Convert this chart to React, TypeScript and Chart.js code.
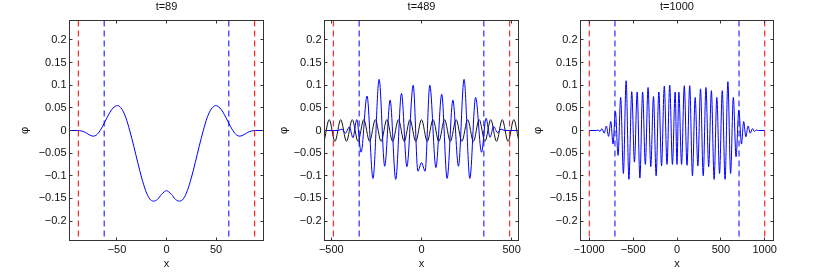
import { useEffect, useRef } from 'react';
import { Chart, registerables } from 'chart.js';

Chart.register(...registerables);

// ---------- data ----------
const titles = ['t=89', 't=489', 't=1000'];
const yTicks = [-0.2, -0.15, -0.1, -0.05, 0, 0.05, 0.1, 0.15, 0.2];
const yLimit = 0.243;

// panel 1 (t=89)
const p1XLim = 97.9;
const p1XTicks = [-50, 0, 50];
const p1Red = [-89, 89];
const p1Blue = [-62.9, 62.9];
const p1X = [-97.9, -90, -86, -82, -78, -74, -70, -66, -63, -60, -57, -54, -49.5, -45, -41, -37, -33, -29, -25, -21, -17, -13, -9, -5, -2,
  0,
  2, 5, 9, 13, 17, 21, 25, 29, 33, 37, 41, 45, 49.5, 54, 57, 60, 63, 66, 70, 74, 78, 82, 86, 90, 97.9];
const p1Y = [0, 0, -0.001, -0.004, -0.0095, -0.0125, -0.0086, 0.0034, 0.0155, 0.0285, 0.0405, 0.0495, 0.055, 0.047, 0.028, -0.001, -0.035, -0.071, -0.105, -0.133, -0.151, -0.156, -0.152, -0.141, -0.135,
  -0.133,
  -0.135, -0.141, -0.152, -0.156, -0.151, -0.133, -0.105, -0.071, -0.035, -0.001, 0.028, 0.047, 0.055, 0.0495, 0.0405, 0.0285, 0.0155, 0.0034, -0.0086, -0.0125, -0.0095, -0.004, -0.001, 0, 0];

// panel 2 (t=489)
const p2XLim = 537.9;
const p2XTicks = [-500, 0, 500];
const p2Red = [-489, 489];
const p2Blue = [-345.8, 345.8];
const p2BlueX = [-537.9, -463, -441, -422, -400, -380, -359, -335, -302, -269, -235, -204, -174, -143, -111, -81, -46, -20,
  0,
  20, 46, 80, 112, 142, 174, 205, 236, 268, 300, 333, 358, 380, 400, 422, 441, 463, 537.9];
const p2BlueY = [0, 0, 0.003, -0.006, 0.008, -0.016, 0.024, -0.048, 0.076, -0.106, 0.113, -0.079, 0.067, -0.108, 0.082, -0.08, 0.1, -0.09,
  -0.071,
  -0.09, 0.1, -0.082, 0.08, -0.106, 0.067, -0.079, 0.113, -0.106, 0.073, -0.048, 0.027, -0.015, 0.009, -0.005, 0.003, 0, 0];
const p2BlackX = [-537.9, -512, -480, -448, -416, -384, -352, -320, -288, -256, -224, -192, -160, -128, -96, -64, -32,
  0,
  32, 64, 96, 128, 160, 192, 224, 256, 288, 320, 352, 384, 416, 448, 480, 512, 537.9];
const p2BlackY = [-0.02, 0.024, -0.024, 0.024, -0.024, 0.024, -0.024, 0.024, -0.024, 0.024, -0.024, 0.024, -0.024, 0.024, -0.024, 0.024, -0.024,
  0.024,
  -0.024, 0.024, -0.024, 0.024, -0.024, 0.024, -0.024, 0.024, -0.024, 0.024, -0.024, 0.024, -0.024, 0.024, -0.024, 0.024, -0.02];

// panel 3 (t=1000)
const p3XLim = 1100;
const p3XTicks = [-1000, -500, 0, 500, 1000];
const p3Red = [-1000, 1000];
const p3Blue = [-707.1, 707.1];
const p3X = [-1000, -920, -900, -878, -855, -830, -805, -780, -755, -729, -702, -672, -642, -611, -580, -548, -516, -485, -454, -423, -392, -361, -330, -299, -268, -238, -207, -176, -145, -114, -83, -52, -21,
  0,
  21, 52, 83, 114, 145, 176, 207, 238, 268, 299, 330, 361, 392, 423, 454, 485, 516, 548, 580, 611, 642, 673, 705, 735, 760, 785, 810, 835, 860, 883, 905, 925, 1000];
const p3Y = [0, 0, 0.001, -0.002, 0.004, -0.006, 0.01, -0.013, 0.02, -0.03, 0.042, -0.055, 0.073, -0.095, 0.11, -0.108, 0.086, -0.07, 0.085, -0.105, 0.085, -0.075, 0.095, -0.08, 0.075, -0.1, 0.085, -0.078, 0.098, -0.075, 0.1, -0.075, 0.085,
  -0.075,
  0.085, -0.075, 0.099, -0.077, 0.099, -0.1, 0.073, -0.078, 0.092, -0.1, 0.095, -0.08, 0.088, -0.108, 0.073, -0.095, 0.088, -0.108, 0.108, -0.095, 0.073, -0.058, 0.045, -0.03, 0.02, -0.014, 0.01, -0.006, 0.004, -0.002, 0.001, 0, 0];

// ---------- styling ----------
const FONT = "'Liberation Sans', Arial, Helvetica, sans-serif";
const TEXT = '#111';
const BLUE = 'rgb(0,0,255)';
const RED = 'rgb(255,0,0)';
const BLACK = 'rgb(20,20,20)';

type Series = { x: number[]; y: number[]; color: string };
type Panel = {
  title: string; xLim: number; xTicks: number[]; series: Series[];
  red: number[]; blue: number[];
  left: number; width: number; yAxisW: number; padRight: number; phiPad: number;
};

const panels: Panel[] = [
  { title: titles[0], xLim: p1XLim, xTicks: p1XTicks, series: [{ x: p1X, y: p1Y, color: BLUE }], red: p1Red, blue: p1Blue,
    left: 0, width: 275, yAxisW: 69.5, padRight: 11.5, phiPad: 18.4 },
  { title: titles[1], xLim: p2XLim, xTicks: p2XTicks, series: [{ x: p2BlueX, y: p2BlueY, color: BLUE }, { x: p2BlackX, y: p2BlackY, color: BLACK }], red: p2Red, blue: p2Blue,
    left: 272, width: 260, yAxisW: 52.5, padRight: 13.5, phiPad: 5.4 },
  { title: titles[2], xLim: p3XLim, xTicks: p3XTicks, series: [{ x: p3X, y: p3Y, color: BLUE }], red: p3Red, blue: p3Blue,
    left: 530, width: 301, yAxisW: 50.5, padRight: 57.5, phiPad: 1.4 },
];

const fmt = (v: number) => {
  const a = Math.round(Math.abs(v) * 1000) / 1000;
  return (v < 0 ? '\u2212' : '') + String(a);
};

const boxPlugin = {
  id: 'matlabBox',
  afterDatasetsDraw(chart: any) {
    const { ctx, chartArea: a, scales } = chart;
    const L = 3;
    ctx.save();
    ctx.strokeStyle = '#333';
    ctx.lineWidth = 1;
    ctx.beginPath();
    scales.x.ticks.forEach((t: any) => {
      const px = Math.floor(scales.x.getPixelForValue(t.value)) + 0.5;
      ctx.moveTo(px, a.bottom); ctx.lineTo(px, a.bottom - L);
      ctx.moveTo(px, a.top); ctx.lineTo(px, a.top + L);
    });
    scales.y.ticks.forEach((t: any) => {
      const py = Math.floor(scales.y.getPixelForValue(t.value)) + 0.5;
      ctx.moveTo(a.left, py); ctx.lineTo(a.left + L, py);
      ctx.moveTo(a.right, py); ctx.lineTo(a.right - L, py);
    });
    ctx.stroke();
    ctx.strokeRect(a.left, a.top, a.right - a.left, a.bottom - a.top);
    ctx.restore();
  },
};

function vline(v: number, color: string) {
  return {
    data: [{ x: v, y: yLimit }, { x: v, y: -yLimit }],
    borderColor: color, borderWidth: 1, borderDash: [6, 4], pointRadius: 0, tension: 0, fill: false,
  };
}

function makeConfig(p: Panel): any {
  const datasets: any[] = [];
  p.red.forEach(v => datasets.push(vline(v, RED)));
  p.blue.forEach(v => datasets.push(vline(v, BLUE)));
  p.series.forEach(s => datasets.push({
    data: s.x.map((x, i) => ({ x, y: s.y[i] })),
    borderColor: s.color, borderWidth: 1, pointRadius: 0, fill: false,
    cubicInterpolationMode: 'monotone',
  }));
  const font = { family: FONT, size: 11, weight: 'normal' as const };
  return {
    type: 'line',
    data: { datasets },
    plugins: [boxPlugin],
    options: {
      animation: false,
      responsive: false,
      maintainAspectRatio: false,
      events: [],
      layout: { padding: { left: 0, right: p.padRight, top: 0, bottom: 0 } },
      plugins: {
        legend: { display: false },
        tooltip: { enabled: false },
        title: { display: true, fullSize: false, text: p.title, color: TEXT, font, padding: { top: 0.7, bottom: 6.6 } },
      },
      scales: {
        x: {
          type: 'linear', min: -p.xLim, max: p.xLim,
          afterBuildTicks: (s: any) => { s.ticks = p.xTicks.map(v => ({ value: v })); },
          afterFit: (s: any) => { s.height = 31.5; },
          grid: { display: false, drawTicks: false },
          border: { display: false },
          ticks: { padding: 3, color: TEXT, font, autoSkip: false, maxRotation: 0, callback: (v: any) => fmt(Number(v)) },
          title: { display: true, text: 'x', color: TEXT, font, padding: { top: 0, bottom: 1.4 } },
        },
        y: {
          type: 'linear', min: -yLimit, max: yLimit,
          afterBuildTicks: (s: any) => { s.ticks = yTicks.map(v => ({ value: v })); },
          afterFit: (s: any) => { s.width = p.yAxisW; },
          grid: { display: false, drawTicks: false },
          border: { display: false },
          ticks: { padding: 3, color: TEXT, font, autoSkip: false, callback: (v: any) => fmt(Number(v)) },
          title: { display: true, text: '\u03c6', color: TEXT, font, padding: { top: p.phiPad, bottom: 0 } },
        },
      },
    },
  };
}

export default function App() {
  const refs = useRef<(HTMLCanvasElement | null)[]>([]);
  useEffect(() => {
    const charts = panels.map((p, i) => new Chart(refs.current[i] as HTMLCanvasElement, makeConfig(p)));
    return () => charts.forEach(c => c.destroy());
  }, []);
  return (
    <div style={{ position: 'fixed', left: 0, top: 0, width: 831, height: 272, background: '#fff', overflow: 'hidden' }}>
      {panels.map((p, i) => (
        <canvas
          key={i}
          ref={el => { refs.current[i] = el; }}
          width={p.width}
          height={272}
          style={{ position: 'absolute', left: p.left, top: 0, width: p.width, height: 272 }}
        />
      ))}
    </div>
  );
}
